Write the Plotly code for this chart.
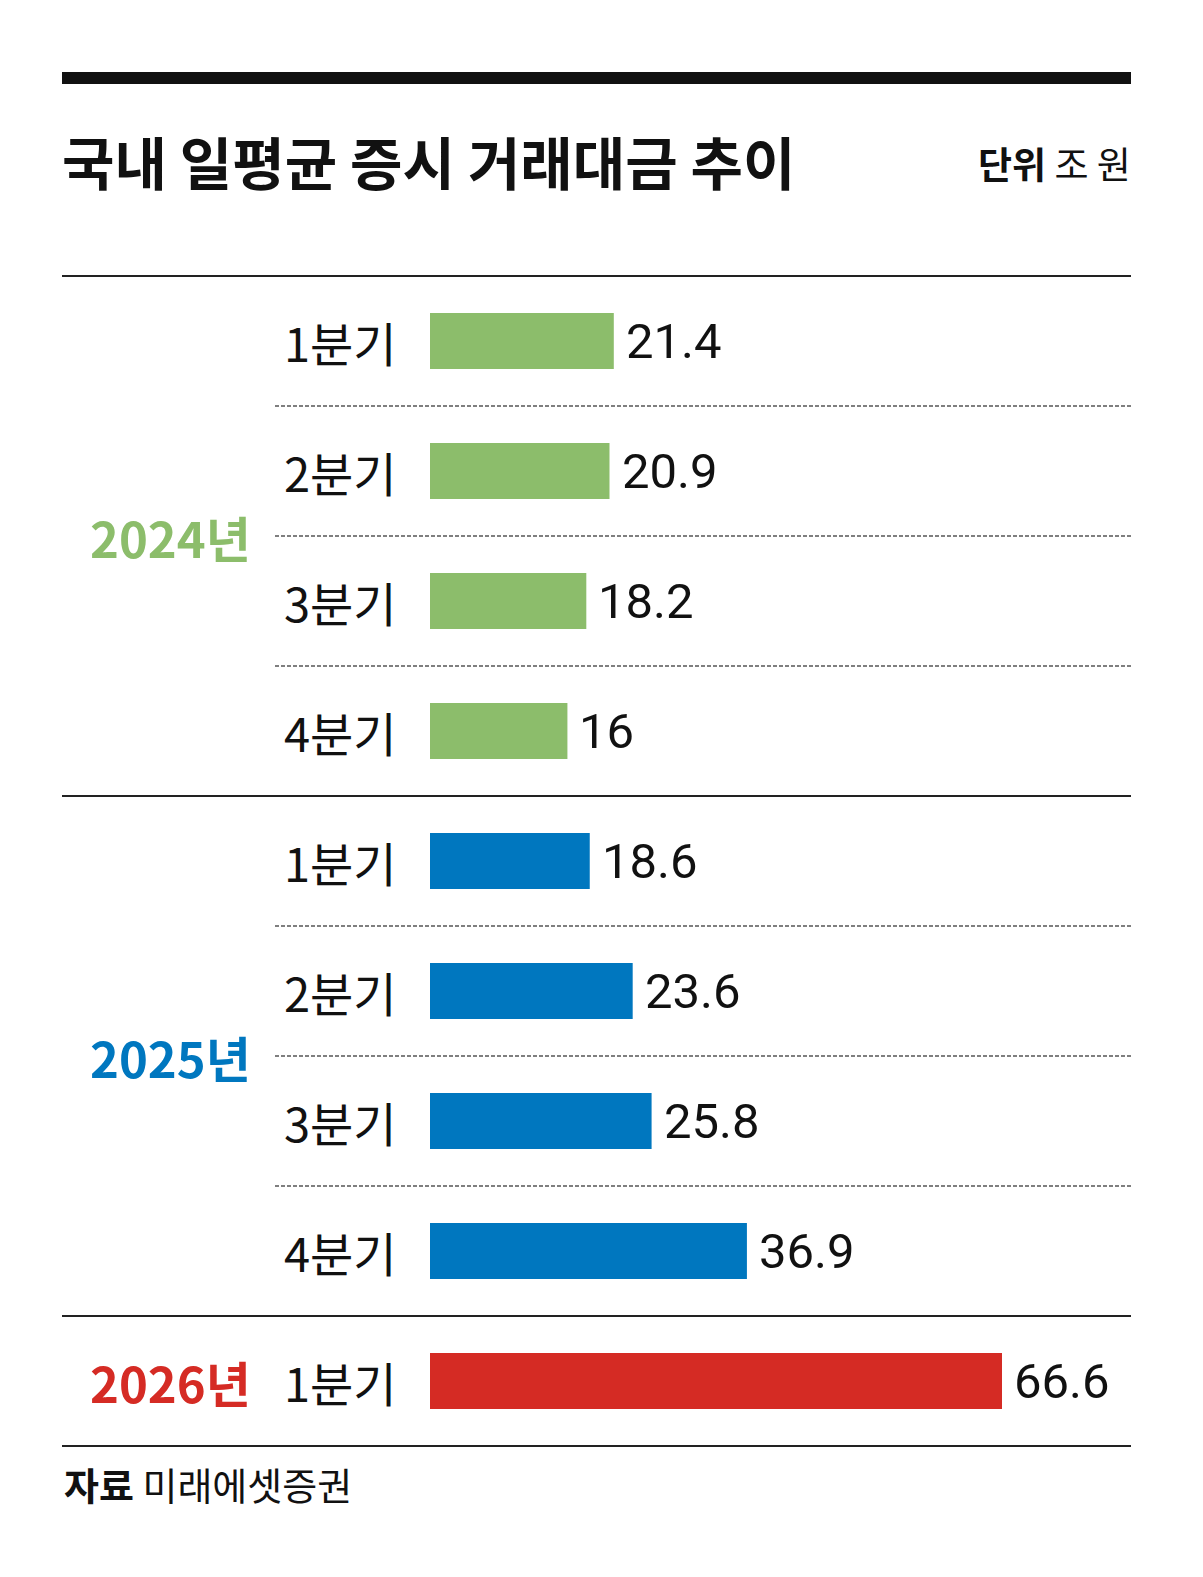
import plotly.graph_objects as go

# data
years = ["2024년", "2024년", "2024년", "2024년",
         "2025년", "2025년", "2025년", "2025년", "2026년"]
quarters = ["1분기", "2분기", "3분기", "4분기",
            "1분기", "2분기", "3분기", "4분기", "1분기"]
values = [21.4, 20.9, 18.2, 16, 18.6, 23.6, 25.8, 36.9, 66.6]
value_labels = ["21.4", "20.9", "18.2", "16", "18.6", "23.6", "25.8", "36.9", "66.6"]
year_colors = {"2024년": "#8CBD6B", "2025年".replace("年", "년"): "#0077BF", "2026년": "#D52B24"}

# the page has an 8px body margin on every side, so the plot is made
# smaller by 16px to keep the whole page at 1203x1577
OFF = 8
W, H = 1203 - 2 * OFF, 1577 - 2 * OFF
KR = "Noto Sans CJK KR"


def px(x):
    return (x - OFF) / W


def py(y):
    return 1 - (y - OFF) / H


rows = list(range(len(values)))
colors = [year_colors[y] for y in years]

fig = go.Figure()
fig.add_trace(go.Bar(
    x=values, y=rows, orientation="h",
    marker=dict(color=colors, line=dict(width=0)),
    width=0.43, hoverinfo="skip",
))

ann = []
# quarter labels + value labels
for i, (q, v, lab) in enumerate(zip(quarters, values, value_labels)):
    ann.append(dict(x=px(399), xref="paper", y=i, yref="y", text=q,
                    xanchor="right", yanchor="middle", showarrow=False,
                    font=dict(family=KR, size=47, color="#111")))
    ann.append(dict(x=v, xref="x", y=i, yref="y", text=lab, xshift=10,
                    xanchor="left", yanchor="middle", showarrow=False,
                    font=dict(family="Roboto", size=49, color="#111")))

# year labels, centred on their group
groups = {}
for i, y in enumerate(years):
    groups.setdefault(y, []).append(i)
for y, idx in groups.items():
    ann.append(dict(x=px(170), xref="paper", y=sum(idx) / len(idx), yref="y",
                    text="<b>%s</b>" % y, xanchor="center", yanchor="middle",
                    showarrow=False,
                    font=dict(family=KR, size=49, color=year_colors[y])))

# title, unit, source
ann.append(dict(x=px(60), xref="paper", y=py(160), yref="paper",
                text="<b>국내 일평균 증시 거래대금 추이</b>", xanchor="left",
                yanchor="middle", showarrow=False,
                font=dict(family=KR, size=57, color="#111")))
ann.append(dict(x=px(1133), xref="paper", y=py(163), yref="paper",
                text="<b>단위</b> 조 원", xanchor="right", yanchor="middle",
                showarrow=False, font=dict(family=KR, size=37, color="#111")))
ann.append(dict(x=px(62), xref="paper", y=py(1483), yref="paper",
                text="<b>자료</b> 미래에셋증권", xanchor="left", yanchor="middle",
                showarrow=False, font=dict(family=KR, size=38, color="#111")))

shapes = []
# thick top rule
shapes.append(dict(type="line", xref="paper", yref="paper",
                   x0=px(62), x1=px(1131), y0=py(78), y1=py(78),
                   line=dict(color="#111", width=12)))
# separators between rows: solid between years, dashed inside a year
for i in range(-1, len(values)):
    solid = i < 0 or i == len(values) - 1 or years[i] != years[i + 1]
    if solid:
        shapes.append(dict(type="line", xref="paper", yref="y",
                           x0=px(62), x1=px(1131), y0=i + 0.5, y1=i + 0.5,
                           line=dict(color="#222", width=2)))
    else:
        shapes.append(dict(type="line", xref="paper", yref="y",
                           x0=px(275), x1=px(1131), y0=i + 0.5, y1=i + 0.5,
                           line=dict(color="#555", width=1.5, dash="4px,2px")))

# bar scale: zero at x=430, 66.6 at x=1002
x0_pix, unit_pix = 430 - OFF, (1002 - 430) / 66.6
row0_pix, row_pix = 341 - OFF, 130
fig.update_layout(
    width=W, height=H,
    margin=dict(l=0, r=0, t=0, b=0),
    paper_bgcolor="white", plot_bgcolor="white",
    showlegend=False,
    xaxis=dict(range=[-x0_pix / unit_pix, (W - x0_pix) / unit_pix],
               domain=[0, 1], visible=False, fixedrange=True),
    yaxis=dict(range=[(H - row0_pix) / row_pix, -row0_pix / row_pix],
               domain=[0, 1], visible=False, fixedrange=True),
    annotations=ann, shapes=shapes,
)

fig.write_html("out.html")
